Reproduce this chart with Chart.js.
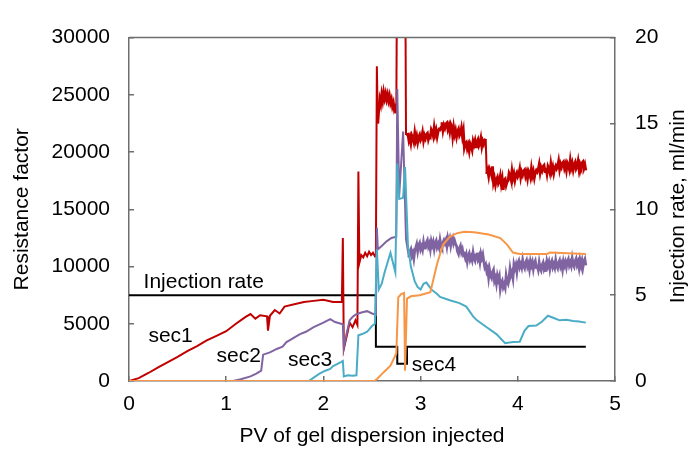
<!DOCTYPE html>
<html>
<head>
<meta charset="utf-8">
<script src="https://cdn.jsdelivr.net/npm/chart.js@4.4.1/dist/chart.umd.min.js"></script>
<style>
  body { margin: 0; background: #fff; }
</style>
</head>
<body>
<canvas id="my-chart" width="690" height="449"></canvas>
<script>
// tick labels
const pvTicks = [0, 1, 2, 3, 4, 5];
const rfTicks = [0, 5000, 10000, 15000, 20000, 25000, 30000];
const rateTicks = [0, 5, 10, 15, 20];

// [PV injected, resistance factor]
const sec1 = [
  [0, 0], [0.1, 250], [0.2, 700], [0.3, 1200], [0.4, 1650], [0.5, 2100], [0.6, 2600],
  [0.7, 3050], [0.8, 3550], [0.9, 3950], [1.0, 4350], [1.1, 5000], [1.2, 5600],
  [1.25, 5850], [1.3, 5450], [1.35, 5750], [1.42, 5650], [1.43, 4400], [1.45, 5700],
  [1.5, 6200], [1.55, 5900], [1.6, 6500], [1.7, 6700], [1.8, 6900], [1.9, 7000],
  [2.0, 7100], [2.1, 6900], [2.19, 6900], [2.2, 12500], [2.21, 2800], [2.25, 4300],
  [2.27, 5100], [2.3, 4700], [2.33, 5300], [2.35, 4900], [2.36, 18300], [2.37, 10300],
  [2.39, 11000], [2.41, 10800], [2.43, 11200], [2.45, 10900], [2.47, 11300], [2.49, 11000],
  [2.51, 11200], [2.53, 10900], [2.54, 11000], [2.55, 27500], [2.56, 22500], [2.57, 23800],
  [2.58, 24600], [2.59, 24200], [2.6, 25000], [2.61, 24500], [2.62, 25200], [2.63, 24700],
  [2.64, 25100], [2.65, 24600], [2.66, 25000], [2.67, 24500], [2.68, 24900], [2.69, 24300],
  [2.7, 24600], [2.71, 24000], [2.72, 24300], [2.73, 23700], [2.74, 23900], [2.75, 23400],
  [2.76, 40000], [2.84, 40000], [2.85, 21500],
  [2.87, 21550], [2.88, 21000], [2.89, 21300], [2.9, 20800], [2.91, 21450], [2.92, 21250],
  [2.93, 20900], [2.94, 21650], [2.95, 21050], [2.96, 21400], [2.97, 20850], [2.98, 21300],
  [2.99, 21500], [3.0, 21050], [3.01, 21250], [3.02, 21700], [3.03, 21000], [3.04, 21450],
  [3.05, 21200], [3.06, 21550], [3.07, 21650], [3.08, 21100], [3.09, 21400], [3.1, 21300],
  [3.11, 21950], [3.12, 21750], [3.13, 21400], [3.14, 22150], [3.15, 21550], [3.16, 21900],
  [3.17, 21350], [3.18, 21800], [3.19, 22000], [3.2, 21950], [3.21, 22150], [3.22, 22600],
  [3.23, 21900], [3.24, 22350], [3.25, 22100], [3.26, 22450], [3.27, 22550], [3.28, 22000],
  [3.29, 22300], [3.3, 21800], [3.31, 22450], [3.32, 22250], [3.33, 21400], [3.34, 22150],
  [3.35, 21550], [3.36, 21900], [3.37, 21350], [3.38, 21800], [3.39, 22000], [3.4, 21450],
  [3.41, 21650], [3.42, 22100], [3.43, 21400], [3.44, 21850], [3.45, 20400], [3.46, 20750],
  [3.47, 20850], [3.48, 20300], [3.49, 20600], [3.5, 20100], [3.51, 20750], [3.52, 20550],
  [3.53, 20200], [3.54, 20950], [3.55, 20650], [3.56, 21000], [3.57, 20450], [3.58, 20900],
  [3.59, 21100], [3.6, 20550], [3.61, 20750], [3.62, 21200], [3.63, 20500], [3.64, 20950],
  [3.65, 20700], [3.66, 21050], [3.67, 21150], [3.68, 18100], [3.69, 18400], [3.7, 17900],
  [3.71, 18550], [3.72, 18350], [3.73, 18000], [3.74, 18750], [3.75, 17350], [3.76, 17700],
  [3.77, 17150], [3.78, 17600], [3.79, 17800], [3.8, 17250], [3.81, 17450], [3.82, 17900],
  [3.83, 17200], [3.84, 17650], [3.85, 16700], [3.86, 17550], [3.87, 17650], [3.88, 17100],
  [3.89, 17400], [3.9, 17500], [3.91, 18150], [3.92, 17950], [3.93, 17600], [3.94, 18350],
  [3.95, 17750], [3.96, 18100], [3.97, 17550], [3.98, 18000], [3.99, 18200], [4.0, 17850],
  [4.01, 18050], [4.02, 18500], [4.03, 17800], [4.04, 18250], [4.05, 18000], [4.06, 18350],
  [4.07, 18450], [4.08, 17900], [4.09, 18200], [4.1, 17700], [4.11, 18350], [4.12, 18150],
  [4.13, 17800], [4.14, 18550], [4.15, 17950], [4.16, 18300], [4.17, 17750], [4.18, 18200],
  [4.19, 18400], [4.2, 18250], [4.21, 18450], [4.22, 18900], [4.23, 18200], [4.24, 18650],
  [4.25, 18400], [4.26, 18750], [4.27, 18850], [4.28, 18300], [4.29, 18600], [4.3, 18100],
  [4.31, 18750], [4.32, 18550], [4.33, 18200], [4.34, 18950], [4.35, 18350], [4.36, 18700],
  [4.37, 18150], [4.38, 18600], [4.39, 18800], [4.4, 18550], [4.41, 18750], [4.42, 19200],
  [4.43, 18500], [4.44, 18950], [4.45, 18700], [4.46, 19050], [4.47, 19150], [4.48, 18600],
  [4.49, 18900], [4.5, 18400], [4.51, 19050], [4.52, 18850], [4.53, 18500], [4.54, 19250],
  [4.55, 18650], [4.56, 19000], [4.57, 18450], [4.58, 18900], [4.59, 19100], [4.6, 18550],
  [4.61, 18750], [4.62, 19200], [4.63, 18500], [4.64, 18950], [4.65, 18700], [4.66, 19050],
  [4.67, 19150], [4.68, 18600], [4.69, 18900], [4.7, 18400],
];

const sec2 = [
  [0, 0], [1.07, 0], [1.15, 150], [1.25, 400], [1.31, 650], [1.36, 900], [1.38, 2300],
  [1.45, 2500], [1.52, 2800], [1.58, 3000], [1.62, 3400], [1.66, 3600], [1.72, 3900],
  [1.76, 4100], [1.82, 4300], [1.9, 4700], [1.95, 4900], [2.0, 5100], [2.07, 5400],
  [2.12, 5150], [2.2, 4950], [2.21, 2900], [2.24, 4200], [2.27, 5300], [2.3, 5600],
  [2.33, 5800], [2.36, 5900], [2.4, 6000], [2.45, 6100], [2.5, 5900], [2.54, 5800],
  [2.55, 13400], [2.56, 11500], [2.6, 11800], [2.65, 12200], [2.7, 12500], [2.75, 12600],
  [2.76, 25500], [2.78, 16200], [2.82, 21800], [2.85, 12400],
  [2.88, 10800], [2.89, 11300], [2.9, 11500], [2.91, 10950], [2.92, 11200], [2.93, 10700],
  [2.94, 11400], [2.95, 11650], [2.96, 11950], [2.97, 11350], [2.98, 11850], [2.99, 12050],
  [3.0, 11500], [3.01, 11750], [3.02, 11450], [3.03, 12100], [3.04, 11600], [3.05, 11600],
  [3.06, 12100], [3.07, 12300], [3.08, 11750], [3.09, 12000], [3.1, 11500], [3.11, 12200],
  [3.12, 11850], [3.13, 12150], [3.14, 11550], [3.15, 12050], [3.16, 12250], [3.17, 11700],
  [3.18, 11950], [3.19, 11650], [3.2, 12300], [3.21, 11800], [3.22, 11600], [3.23, 12100],
  [3.24, 12300], [3.25, 12050], [3.26, 12300], [3.27, 11800], [3.28, 12500], [3.29, 12150],
  [3.3, 12450], [3.31, 11850], [3.32, 12350], [3.33, 12550], [3.34, 12000], [3.35, 12250],
  [3.36, 11950], [3.37, 11800], [3.38, 11300], [3.39, 11100], [3.4, 11600], [3.41, 11800],
  [3.42, 11250], [3.43, 11500], [3.44, 11000], [3.45, 11100], [3.46, 10750], [3.47, 11050],
  [3.48, 10450], [3.49, 10950], [3.5, 11150], [3.51, 10600], [3.52, 10850], [3.53, 10550],
  [3.54, 11200], [3.55, 10700], [3.56, 10500], [3.57, 11000], [3.58, 11200], [3.59, 10650],
  [3.6, 10900], [3.61, 10400], [3.62, 11100], [3.63, 10750], [3.64, 11050], [3.65, 10450],
  [3.66, 9950], [3.67, 10150], [3.68, 9600], [3.69, 9850], [3.7, 9050], [3.71, 9700],
  [3.72, 9200], [3.73, 9000], [3.74, 9500], [3.75, 9700], [3.76, 8750], [3.77, 9000],
  [3.78, 8500], [3.79, 9200], [3.8, 8850], [3.81, 9150], [3.82, 8050], [3.83, 8550],
  [3.84, 8750], [3.85, 8200], [3.86, 8450], [3.87, 8150], [3.88, 9200], [3.89, 8700],
  [3.9, 8500], [3.91, 9000], [3.92, 9800], [3.93, 9250], [3.94, 9500], [3.95, 9000],
  [3.96, 10200], [3.97, 9850], [3.98, 10150], [3.99, 9550], [4.0, 10300], [4.01, 10500],
  [4.02, 9950], [4.03, 10200], [4.04, 9900], [4.05, 10550], [4.06, 10050], [4.07, 9850],
  [4.08, 10350], [4.09, 10550], [4.1, 10000], [4.11, 10250], [4.12, 9750], [4.13, 10450],
  [4.14, 10100], [4.15, 10400], [4.16, 9800], [4.17, 10300], [4.18, 10500], [4.19, 9950],
  [4.2, 10000], [4.21, 9700], [4.22, 10350], [4.23, 9850], [4.24, 9650], [4.25, 10150],
  [4.26, 10350], [4.27, 9800], [4.28, 10050], [4.29, 9550], [4.3, 10450], [4.31, 10100],
  [4.32, 10400], [4.33, 9800], [4.34, 10300], [4.35, 10500], [4.36, 9950], [4.37, 10200],
  [4.38, 9900], [4.39, 10550], [4.4, 10050], [4.41, 9850], [4.42, 10350], [4.43, 10550],
  [4.44, 10000], [4.45, 10250], [4.46, 9750], [4.47, 10450], [4.48, 10100], [4.49, 10400],
  [4.5, 9950], [4.51, 10450], [4.52, 10650], [4.53, 10100], [4.54, 10350], [4.55, 10050],
  [4.56, 10700], [4.57, 10200], [4.58, 10000], [4.59, 10500], [4.6, 10700], [4.61, 10150],
  [4.62, 10400], [4.63, 9900], [4.64, 10600], [4.65, 10250], [4.66, 10550], [4.67, 9950],
  [4.68, 10450], [4.69, 10650], [4.7, 10100],
];

const sec3 = [
  [0, 0], [1.85, 0], [1.9, 300], [1.96, 640], [2.02, 900], [2.07, 1060], [2.1, 1300],
  [2.14, 1480], [2.18, 1650], [2.2, 1750], [2.21, 400], [2.25, 500], [2.3, 450],
  [2.34, 500], [2.36, 4000], [2.4, 4100], [2.45, 4300], [2.5, 4800], [2.53, 5000],
  [2.55, 11500], [2.57, 8000], [2.6, 8500], [2.63, 9500], [2.69, 11200], [2.74, 9500],
  [2.76, 19000], [2.78, 15900], [2.82, 16000], [2.84, 18700], [2.87, 11800], [2.9, 10000],
  [2.94, 8700], [2.97, 8200], [3.0, 8000], [3.03, 8500], [3.06, 8600], [3.11, 8000],
  [3.17, 7600], [3.2, 7350], [3.3, 7050], [3.4, 6800], [3.47, 6500], [3.54, 5650],
  [3.58, 5300], [3.68, 4700], [3.78, 4100], [3.87, 3300], [3.95, 3400], [4.02, 3430],
  [4.07, 4400], [4.11, 4800], [4.19, 4850], [4.25, 5200], [4.31, 5700], [4.37, 5500],
  [4.43, 5300], [4.5, 5350], [4.57, 5250], [4.63, 5200], [4.7, 5100],
];

const sec4 = [
  [0, 0], [2.52, 0], [2.55, 150], [2.6, 600], [2.65, 1000], [2.69, 1340], [2.75, 2400],
  [2.77, 7300], [2.8, 7600], [2.83, 7700], [2.84, 900], [2.86, 7200], [2.9, 7400],
  [2.99, 7500], [3.1, 7750], [3.17, 10250], [3.23, 11900], [3.3, 12600], [3.37, 12900],
  [3.45, 13040], [3.55, 13000], [3.7, 12800], [3.82, 12480], [3.89, 11920], [3.95, 11220],
  [4.02, 11090], [4.3, 11090], [4.33, 11220], [4.7, 11090],
];

// [PV injected, injection rate ml/min]
const injectionRate = [
  [0, 5], [2.54, 5], [2.54, 2], [2.76, 2], [2.76, 1], [2.86, 1], [2.86, 2], [4.7, 2],
];

const axisColor = "#6e6e6e";
Chart.defaults.font.family = "'Liberation Sans', Arial, sans-serif";
Chart.defaults.font.size = 21;
Chart.defaults.color = "#000";

// frame top line, curve labels and the right-hand title
const extras = {
  id: "extras",
  afterDraw(chart) {
    const { ctx, chartArea, scales } = chart;
    const x = scales.x;
    const y = scales.y;
    ctx.save();
    ctx.strokeStyle = axisColor;
    ctx.lineWidth = 1.5;
    ctx.beginPath();
    ctx.moveTo(chartArea.left, chartArea.top);
    ctx.lineTo(chartArea.right, chartArea.top);
    ctx.stroke();

    ctx.fillStyle = "#000";
    ctx.font = "21px 'Liberation Sans', Arial, sans-serif";
    ctx.textBaseline = "alphabetic";
    ctx.textAlign = "left";
    ctx.fillText("Injection rate", x.getPixelForValue(0.15), y.getPixelForValue(8150));
    ctx.fillText("sec1", x.getPixelForValue(0.2), y.getPixelForValue(3450));
    ctx.fillText("sec2", x.getPixelForValue(0.9), y.getPixelForValue(1620));
    ctx.fillText("sec3", x.getPixelForValue(1.635), y.getPixelForValue(1330));
    ctx.fillText("sec4", x.getPixelForValue(2.91), y.getPixelForValue(850));

    ctx.translate(678, (chartArea.top + chartArea.bottom) / 2 - 3);
    ctx.rotate(-Math.PI / 2);
    ctx.textAlign = "center";
    ctx.textBaseline = "middle";
    ctx.fillText("Injection rate, ml/min", 0, 0);
    ctx.restore();
  },
};

// noisy stretches of the pressure records are drawn a little heavier
const heavyFrom = (start) => (seg) =>
  seg.p0.parsed.x >= start && Math.abs(seg.p1.parsed.y - seg.p0.parsed.y) < 2000 ? 2.8 : 2;

const line = (data, color, order, axis, start) => ({
  data: data,
  borderColor: color,
  borderWidth: 2,
  pointRadius: 0,
  tension: 0,
  order: order,
  yAxisID: axis,
  segment: start ? { borderWidth: heavyFrom(start) } : undefined,
});

const plain = (value) => String(value);

new Chart(document.getElementById("my-chart"), {
  type: "line",
  data: {
    datasets: [
      line(sec4, "#f79646", 1, "y"),
      line(sec3, "#4bacc6", 2, "y"),
      line(sec2, "#8064a2", 3, "y", 2.88),
      line(sec1, "#c00000", 4, "y", 2.56),
      line(injectionRate, "#000000", 5, "y2"),
    ],
  },
  options: {
    responsive: false,
    animation: false,
    layout: { padding: { top: 22, left: 0, right: 0, bottom: 0 } },
    plugins: {
      legend: { display: false },
      tooltip: { enabled: false },
    },
    scales: {
      x: {
        type: "linear",
        min: 0,
        max: 5,
        afterBuildTicks: (axis) => { axis.ticks = pvTicks.map((v) => ({ value: v })); },
        afterFit: (axis) => { axis.height = 68; },
        ticks: { padding: 16, callback: plain },
        grid: { drawOnChartArea: false, tickLength: -5, color: axisColor, lineWidth: 1.5 },
        border: { color: axisColor, width: 1.5 },
        title: {
          display: true,
          text: "PV of gel dispersion injected",
          padding: { top: 0, bottom: 0 },
        },
      },
      y: {
        position: "left",
        min: 0,
        max: 30000,
        afterBuildTicks: (axis) => { axis.ticks = rfTicks.map((v) => ({ value: v })); },
        afterFit: (axis) => { axis.width = 129; },
        ticks: { padding: 24, callback: plain },
        grid: { drawOnChartArea: false, tickLength: -5, color: axisColor, lineWidth: 1.5 },
        border: { color: axisColor, width: 1.5 },
        title: {
          display: true,
          text: "Resistance factor",
          padding: { top: 10, bottom: 0 },
        },
      },
      y2: {
        position: "right",
        min: 0,
        max: 20,
        afterBuildTicks: (axis) => { axis.ticks = rateTicks.map((v) => ({ value: v })); },
        afterFit: (axis) => { axis.width = 75; },
        ticks: { padding: 25, callback: plain },
        grid: { drawOnChartArea: false, tickLength: -5, color: axisColor, lineWidth: 1.5 },
        border: { color: axisColor, width: 1.5 },
      },
    },
  },
  plugins: [extras],
});
</script>
</body>
</html>
